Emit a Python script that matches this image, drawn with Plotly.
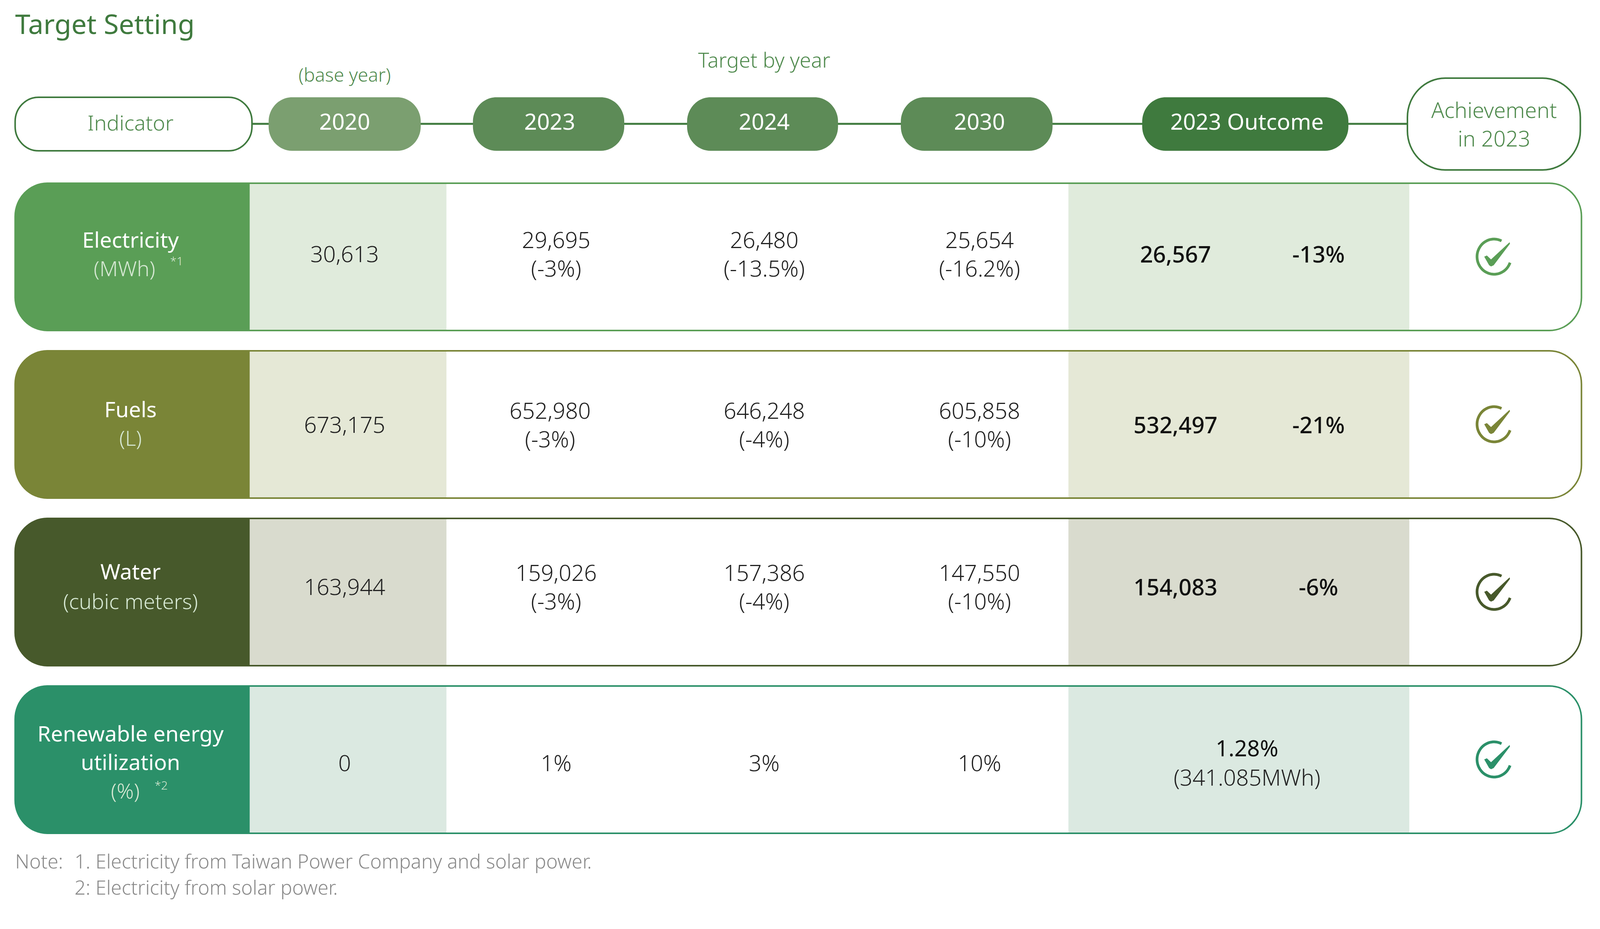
import numpy as np
import plotly.graph_objects as go

W, H = 4229, 2378
FONT = "Noto Sans"
TEXT_SHIFT = 7  # plotly centres text a little above the given y

# data
indicators = ["Electricity", "Fuels", "Water"]
units = ["(MWh)", "(L)", "(cubic meters)"]
renewable_label = ["Renewable energy", "utilization", "(%)"]
base_2020 = ["30,613", "673,175", "163,944", "0"]
target_2023 = ["29,695", "652,980", "159,026", "1%"]
target_2023_pct = ["(-3%)", "(-3%)", "(-3%)"]
target_2024 = ["26,480", "646,248", "157,386", "3%"]
target_2024_pct = ["(-13.5%)", "(-4%)", "(-4%)"]
target_2030 = ["25,654", "605,858", "147,550", "10%"]
target_2030_pct = ["(-16.2%)", "(-10%)", "(-10%)"]
outcome_2023 = ["26,567", "532,497", "154,083"]
outcome_pct = ["-13%", "-21%", "-6%"]
outcome_renewable = ["1.28%", "(341.085MWh)"]
header_years = ["2020", "2023", "2024", "2030", "2023 Outcome"]

# colours per row
row_dark = ["#5a9e56", "#7a8537", "#47592b", "#2b9069"]
row_light = ["#e0ebdc", "#e5e8d6", "#d9dbce", "#dbe9e1"]
pill_colors = ["#7b9f70", "#5d8b57", "#5d8b57", "#5d8b57", "#3f7a3e"]
GREEN = "#3f7a3e"
TEXT_GREEN = "#4f8a4d"
INK = "#222222"
NOTE = "#8a8a8a"

# layout positions (reference pixels, mapped through the axes)
row_top = [469, 898, 1327, 1756]
ROW_H = 377
LEFT, RIGHT = 40, 4180
LABEL_R = 660
BASE_R = 1180
OUT_L, OUT_R = 2824, 3725
pill_x = [(710, 1112), (1250, 1650), (1816, 2215), (2381, 2782), (3019, 3564)]
pill_text_x = [911, 1453, 2020, 2589, 3296]
col_x = [[1470, 1454, 1470], [2020, 2020, 2020], [2589, 2589, 2589]]
col_x_single = [1470, 2020, 2589]
BASE_X = 911
OUT_X, PCT_X, OUT_MID = 3107, 3485, 3296
ICON_X = 3949
text_mid = [650, 1087, 1502, 1953]


def rounded(x0, y0, x1, y1, r, left=True, right=True):
    k = r * 0.45
    p = []
    if left:
        p.append(f"M{x0},{y0 + r} C{x0},{y0 + k} {x0 + k},{y0} {x0 + r},{y0}")
    else:
        p.append(f"M{x0},{y0}")
    if right:
        p.append(f"L{x1 - r},{y0} C{x1 - k},{y0} {x1},{y0 + k} {x1},{y0 + r}")
        p.append(f"L{x1},{y1 - r} C{x1},{y1 - k} {x1 - k},{y1} {x1 - r},{y1}")
    else:
        p.append(f"L{x1},{y0} L{x1},{y1}")
    if left:
        p.append(f"L{x0 + r},{y1} C{x0 + k},{y1} {x0},{y1 - k} {x0},{y1 - r}")
    else:
        p.append(f"L{x0},{y1}")
    return " ".join(p) + " Z"


def path_shape(path, fill=None, line=None, width=0):
    return dict(type="path", path=path, xref="x", yref="y", layer="below",
                fillcolor=fill if fill else "rgba(0,0,0,0)",
                line=dict(color=line if line else "rgba(0,0,0,0)", width=width))


def rect_shape(x0, y0, x1, y1, fill):
    return dict(type="rect", x0=x0, y0=y0, x1=x1, y1=y1, xref="x", yref="y",
                layer="below", fillcolor=fill, line=dict(width=0))


def check_icon(cx, cy, color):
    # open circle, gap at the upper right
    t = np.radians(np.arange(-340, -58, 6))
    pts = [f"{cx + 45 * np.cos(a):.1f},{cy + 45 * np.sin(a):.1f}" for a in t]
    arc = "M" + " L".join(pts)
    tick = [(-26, 0), (-19, -3), (-8, 7), (41, -37), (42, -33), (-1, 22), (-8, 25), (-13, 22)]
    tick_path = "M" + " L".join(f"{cx + a},{cy + b}" for a, b in tick) + " Z"
    return [path_shape(arc, line=color, width=7), path_shape(tick_path, fill=color)]


shapes = []

# connector behind the header pills
shapes.append(dict(type="line", x0=666, x1=3720, y0=317, y1=317, xref="x", yref="y",
                   layer="below", line=dict(color=GREEN, width=5)))
shapes.append(path_shape(rounded(40, 249, 666, 386, 62), fill="white", line=GREEN, width=4))
for (x0, x1), c in zip(pill_x, pill_colors):
    shapes.append(path_shape(rounded(x0, 249, x1, 386, 62), fill=c))
shapes.append(path_shape(rounded(3720, 200, 4177, 435, 100), fill="white", line=GREEN, width=4))

# rows
for i, top in enumerate(row_top):
    bot = top + ROW_H
    shapes.append(rect_shape(LABEL_R, top, BASE_R, bot, row_light[i]))
    shapes.append(rect_shape(OUT_L, top, OUT_R, bot, row_light[i]))
    shapes.append(path_shape(rounded(LEFT, top, RIGHT, bot, 85), line=row_dark[i], width=4))
    shapes.append(path_shape(rounded(LEFT, top, LABEL_R, bot, 85, right=False), fill=row_dark[i]))
    shapes += check_icon(ICON_X, top + 188, row_dark[i])

fig = go.Figure()


def add_text(xs, ys, texts, size, color, weight=300, pos="middle center"):
    fig.add_trace(go.Scatter(x=xs, y=[y + TEXT_SHIFT for y in ys], text=texts, mode="text",
                             textposition=pos,
                             textfont=dict(family=FONT, size=size, color=color, weight=weight),
                             hoverinfo="skip", showlegend=False, cliponaxis=False))


# titles and header
add_text([40], [62], ["Target Setting"], 70, GREEN, 400, "middle right")
add_text([BASE_X], [190], ["(base year)"], 48, TEXT_GREEN)
add_text([2020], [153], ["Target by year"], 53, TEXT_GREEN)
add_text([345], [313], ["Indicator"], 54, TEXT_GREEN)
add_text([3949, 3949], [281, 354], ["Achievement", "in 2023"], 55, TEXT_GREEN)
add_text(pill_text_x, [311] * 5, header_years, 57, "white", 400)

# row labels
add_text([345] * 3, [613, 1047, 1462], indicators, 55, "white", 400)
add_text([329, 345, 345], [686, 1120, 1538], units, 54, "#d6e8d3")
add_text([345, 345], [1877, 1950], renewable_label[:2], 55, "white", 400)
add_text([331], [2023], renewable_label[2:], 54, "#d6e8d3")
add_text([467, 426], [664, 2006], ["*1", "*2"], 30, "#d6e8d3")

# base year and target columns
add_text([BASE_X] * 4, text_mid, base_2020, 57, INK)
for xs, x1, vals, pcts in zip(col_x, col_x_single, [target_2023, target_2024, target_2030],
                              [target_2023_pct, target_2024_pct, target_2030_pct]):
    add_text(xs, [m - 36 for m in text_mid[:3]], vals[:3], 57, INK)
    add_text(xs, [m + 37 for m in text_mid[:3]], pcts, 57, INK)
    add_text([x1], [text_mid[3]], [vals[3]], 57, INK)

# outcome
add_text([OUT_X] * 3, text_mid[:3], outcome_2023, 58, "#111111", 500)
add_text([PCT_X] * 3, text_mid[:3], outcome_pct, 58, "#111111", 500)
add_text([OUT_MID], [1915], [outcome_renewable[0]], 57, "#111111", 400)
add_text([OUT_MID], [1990], [outcome_renewable[1]], 57, INK)

# notes
add_text([40], [2203], ["Note:"], 50, NOTE, 300, "middle right")
add_text([197], [2203], ["1. Electricity from Taiwan Power Company and solar power."], 50, NOTE, 300, "middle right")
add_text([197], [2270], ["2: Electricity from solar power."], 50, NOTE, 300, "middle right")

fig.update_layout(
    margin=dict(l=0, r=0, t=0, b=0),
    paper_bgcolor="white", plot_bgcolor="white",
    xaxis=dict(range=[0, W], visible=False, fixedrange=True),
    yaxis=dict(range=[H, 0], visible=False, fixedrange=True),
    shapes=shapes,
    showlegend=False,
)

# fill the window whatever its real size is
fit = ("document.body.style.margin='0';"
       "Plotly.relayout('{plot_id}', {width: window.innerWidth, height: window.innerHeight});")
fig.write_html("out.html", post_script=fit, config={"displayModeBar": False})
